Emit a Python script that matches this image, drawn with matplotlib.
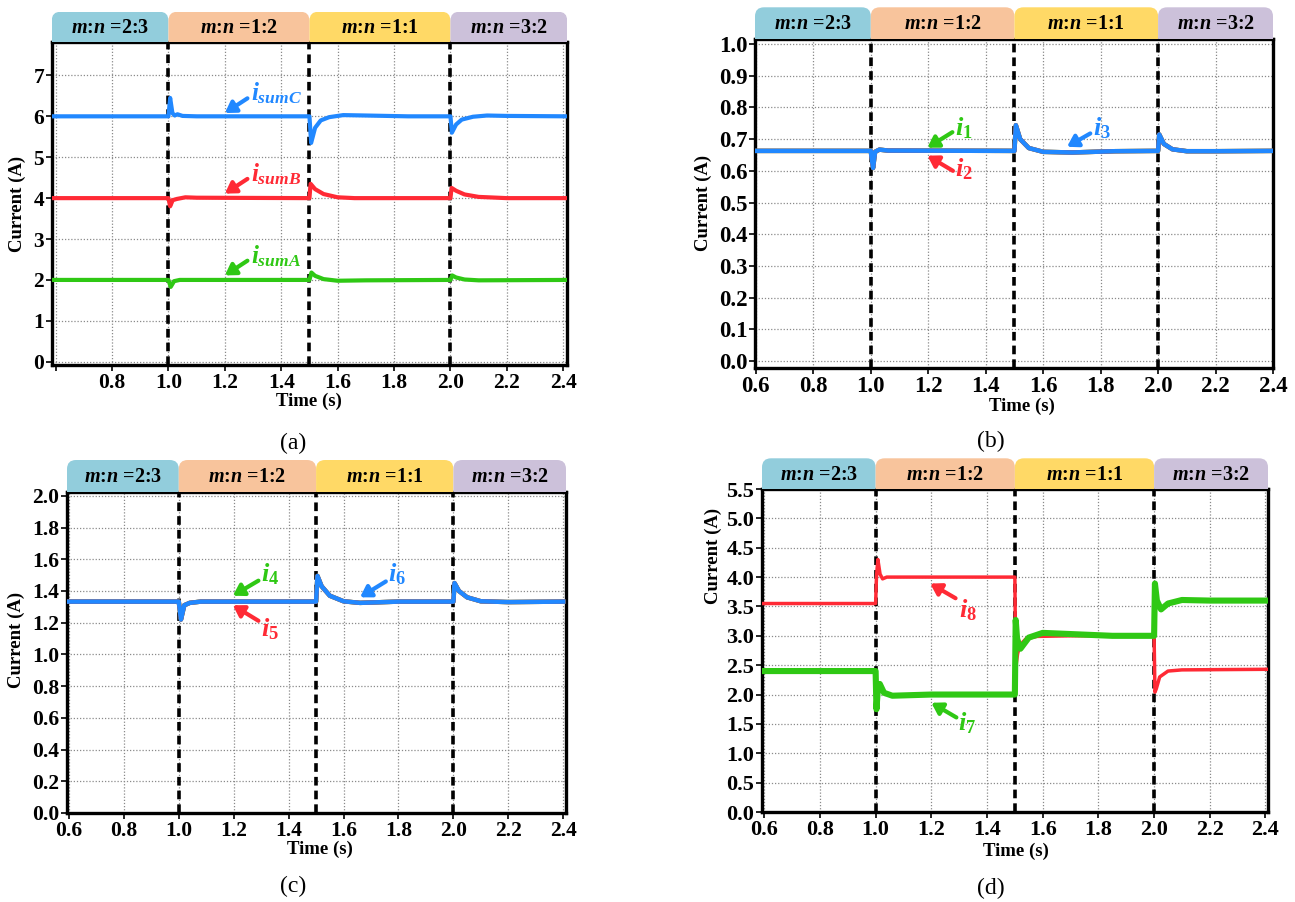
import matplotlib
matplotlib.use("Agg")
import matplotlib.pyplot as plt
from matplotlib.patches import FancyBboxPatch

plt.rcParams["font.family"] = ["Liberation Serif", "DejaVu Serif"]
plt.rcParams["font.weight"] = "bold"
plt.rcParams["mathtext.fontset"] = "custom"
plt.rcParams["mathtext.it"] = "Liberation Serif:italic:bold"
plt.rcParams["mathtext.rm"] = "Liberation Serif:bold"
plt.rcParams["mathtext.bf"] = "Liberation Serif:bold"

W, H = 1295, 902
BLUE = "#2188FF"
RED = "#FF2A35"
GREEN = "#2FC814"
HEADER_COLORS = ["#92CDDC", "#F8C49C", "#FFD966", "#CCC1DA"]
HEADER_TEXT = ["$m$:$n$ =2:3", "$m$:$n$ =1:2", "$m$:$n$ =1:1", "$m$:$n$ =3:2"]
SWITCH_TIMES = [1.0, 1.5, 2.0]

# ---- (a) summed currents
A_C_T = [0.586, 1.000, 1.006, 1.014, 1.022, 1.032, 1.05, 1.10, 1.500, 1.506, 1.52, 1.54,
         1.57, 1.62, 1.70, 1.85, 2.000, 2.005, 2.02, 2.04, 2.08, 2.13, 2.20, 2.414]
A_C_I = [6.00, 6.00, 6.45, 6.08, 6.02, 6.05, 6.01, 6.00, 6.00, 5.35, 5.72, 5.90,
         5.98, 6.03, 6.02, 6.00, 6.00, 5.60, 5.80, 5.92, 5.99, 6.02, 6.01, 6.00]
A_B_T = [0.586, 1.000, 1.006, 1.015, 1.03, 1.06, 1.10, 1.500, 1.504, 1.52, 1.55, 1.60,
         1.66, 1.80, 2.000, 2.004, 2.02, 2.05, 2.10, 2.20, 2.414]
A_B_I = [4.00, 4.00, 3.80, 3.95, 3.98, 4.02, 4.01, 4.00, 4.35, 4.22, 4.10, 4.02,
         4.00, 4.00, 4.00, 4.25, 4.18, 4.09, 4.03, 4.00, 4.00]
A_A_T = [0.586, 1.000, 1.008, 1.02, 1.04, 1.500, 1.507, 1.52, 1.55, 1.60, 1.70,
         2.000, 2.006, 2.02, 2.05, 2.10, 2.414]
A_A_I = [2.00, 2.00, 1.83, 1.97, 2.00, 2.00, 2.18, 2.10, 2.02, 1.98, 1.99,
         2.00, 2.11, 2.06, 2.01, 1.99, 2.00]

# ---- (b) i1 = i2 = i3
B_T = [0.6, 1.000, 1.003, 1.008, 1.015, 1.03, 1.06, 1.500, 1.505, 1.52, 1.55, 1.60,
       1.70, 1.85, 2.000, 2.004, 2.02, 2.05, 2.10, 2.20, 2.4]
B_I = [0.663, 0.663, 0.64, 0.609, 0.66, 0.667, 0.664, 0.663, 0.744, 0.70, 0.672, 0.66,
       0.658, 0.662, 0.663, 0.715, 0.685, 0.668, 0.662, 0.662, 0.663]

# ---- (c) i4 = i5 = i6
C_T = [0.6, 1.000, 1.003, 1.008, 1.02, 1.04, 1.08, 1.500, 1.505, 1.52, 1.55, 1.60,
       1.66, 1.80, 2.000, 2.004, 2.02, 2.05, 2.10, 2.20, 2.4]
C_I = [1.333, 1.333, 1.29, 1.22, 1.31, 1.325, 1.333, 1.333, 1.495, 1.43, 1.37, 1.335,
       1.325, 1.333, 1.333, 1.45, 1.40, 1.36, 1.335, 1.33, 1.333]

# ---- (d) i7, i8
D8_T = [0.592, 1.000, 1.003, 1.008, 1.016, 1.025, 1.04, 1.500, 1.503, 1.51, 1.52, 1.54,
        1.58, 1.70, 2.000, 2.003, 2.008, 2.02, 2.05, 2.10, 2.409]
D8_I = [3.55, 3.55, 4.00, 4.30, 4.05, 3.97, 4.00, 4.00, 2.45, 2.70, 2.85, 2.95,
        2.99, 3.00, 3.00, 2.04, 2.10, 2.30, 2.40, 2.42, 2.43]
D7_T = [0.592, 1.000, 1.003, 1.008, 1.015, 1.03, 1.06, 1.20, 1.500, 1.503, 1.508, 1.52,
        1.55, 1.60, 1.70, 1.85, 2.000, 2.003, 2.01, 2.025, 2.05, 2.10, 2.20, 2.409]
D7_I = [2.40, 2.40, 1.75, 2.10, 2.18, 2.03, 1.98, 2.00, 2.00, 3.27, 2.95, 2.78,
        2.97, 3.05, 3.03, 3.00, 3.00, 3.89, 3.60, 3.45, 3.55, 3.61, 3.60, 3.60]

X_TICKS = [0.6, 0.8, 1.0, 1.2, 1.4, 1.6, 1.8, 2.0, 2.2, 2.4]

fig = plt.figure(figsize=(W / 100, H / 100), dpi=100)


def px_rect(x0, x1, ytop, ybot):
    return [x0 / W, 1 - ybot / H, (x1 - x0) / W, (ybot - ytop) / H]


def panel(box, xlim, ylim, yticks, yfmt, xlabels, fs, header_h):
    x0, x1, ytop, ybot = box
    ax = fig.add_axes(px_rect(x0, x1, ytop, ybot))
    ax.set_xlim(xlim)
    ax.set_ylim(ylim)
    ax.set_xticks(X_TICKS)
    ax.set_xticklabels(xlabels)
    ax.set_yticks(yticks)
    ax.set_yticklabels([yfmt.format(v) for v in yticks])
    ax.grid(True, ls=(0, (1, 1.5)), color="#8a8a8a", lw=0.9)
    for s in ax.spines.values():
        s.set_linewidth(2.4)
    ax.tick_params(direction="out", length=4, width=1.2, labelsize=fs, pad=1.5)
    for t in SWITCH_TIMES:
        ax.axvline(t, color="black", lw=2.6, ls=(0, (2.4, 1.4)), zorder=2)

    # header strip with rounded tabs
    hx = fig.add_axes(px_rect(x0, x1, ytop - header_h, ytop))
    hx.set_xlim(0, x1 - x0)
    hx.set_ylim(0, header_h)
    hx.axis("off")
    edges = [xlim[0]] + SWITCH_TIMES + [xlim[1]]
    to_h = hx.transData.inverted()
    xs = [to_h.transform(ax.transData.transform((e, 0)))[0] for e in edges]
    r = 9
    for i in range(4):
        hx.add_patch(FancyBboxPatch((xs[i], -r), xs[i + 1] - xs[i], header_h + r,
                                    boxstyle=f"round,pad=0,rounding_size={r}",
                                    facecolor=HEADER_COLORS[i], edgecolor="none"))
        hx.text((xs[i] + xs[i + 1]) / 2, header_h / 2 - 1, HEADER_TEXT[i], ha="center",
                va="center", fontsize=14.5, fontweight="bold")
    return ax


def tag(ax, text, pos, tail, tip, color, fs):
    ax.annotate("", xy=tip, xytext=tail,
                arrowprops=dict(arrowstyle="-|>,head_length=0.45,head_width=0.28",
                                lw=3.0, color=color, shrinkA=0, shrinkB=0,
                                mutation_scale=14), zorder=6)
    ax.text(pos[0], pos[1], text, color=color, fontsize=fs, ha="left", va="baseline",
            zorder=6)


def ftext(x, y, s, **kw):
    fig.text(x / W, 1 - y / H, s, ha="center", va="center", **kw)


# (a)
ax_a = panel((51.7, 567.2, 42.3, 365), (0.586, 2.414), (-0.08, 7.81), list(range(8)),
             "{:d}", [""] + ["%.1f" % v for v in X_TICKS[1:]], 15.5, 30.6)
ax_a.plot(A_C_T, A_C_I, color=BLUE, lw=3.0, zorder=3)
ax_a.plot(A_B_T, A_B_I, color=RED, lw=3.0, zorder=3)
ax_a.plot(A_A_T, A_A_I, color=GREEN, lw=3.0, zorder=3)
tag(ax_a, "$i_{sumC}$", (1.292, 6.40), (1.28, 6.44), (1.200, 6.08), BLUE, 18)
tag(ax_a, "$i_{sumB}$", (1.292, 4.40), (1.28, 4.47), (1.200, 4.11), RED, 18)
tag(ax_a, "$i_{sumA}$", (1.292, 2.40), (1.28, 2.47), (1.200, 2.11), GREEN, 18)

# (b)
yb = [round(0.1 * k, 1) for k in range(11)]
ax_b = panel((755, 1273, 39, 368), (0.597, 2.4), (-0.022, 1.016), yb, "{:.1f}",
             ["%.1f" % v for v in X_TICKS], 16.5, 31.7)
ax_b.plot(B_T, B_I, color=GREEN, lw=3.2, zorder=3)
ax_b.plot(B_T, B_I, color=RED, lw=3.2, zorder=3)
ax_b.plot(B_T, B_I, color=BLUE, lw=3.2, zorder=3)
tag(ax_b, "$i_1$", (1.294, 0.713), (1.284, 0.722), (1.197, 0.673), GREEN, 19)
tag(ax_b, "$i_2$", (1.294, 0.581), (1.286, 0.600), (1.197, 0.648), RED, 19)
tag(ax_b, "$i_3$", (1.774, 0.713), (1.764, 0.718), (1.683, 0.676), BLUE, 19)

# (c)
yc = [round(0.2 * k, 1) for k in range(11)]
ax_c = panel((67, 566, 491.7, 813), (0.593, 2.41), (0.0, 2.026), yc, "{:.1f}",
             ["%.1f" % v for v in X_TICKS], 15.5, 31.7)
ax_c.plot(C_T, C_I, color=GREEN, lw=3.2, zorder=3)
ax_c.plot(C_T, C_I, color=RED, lw=3.2, zorder=3)
ax_c.plot(C_T, C_I, color=BLUE, lw=3.2, zorder=3)
tag(ax_c, "$i_4$", (1.299, 1.459), (1.29, 1.465), (1.197, 1.370), GREEN, 19)
tag(ax_c, "$i_5$", (1.30, 1.112), (1.29, 1.212), (1.197, 1.310), RED, 19)
tag(ax_c, "$i_6$", (1.762, 1.459), (1.754, 1.460), (1.660, 1.360), BLUE, 19)

# (d)
yd = [round(0.5 * k, 1) for k in range(12)]
ax_d = panel((762, 1268, 489, 812), (0.592, 2.409), (0.0, 5.5), yd, "{:.1f}",
             ["%.1f" % v for v in X_TICKS], 16, 30.7)
ax_d.plot(D8_T, D8_I, color=RED, lw=2.5, zorder=3)
ax_d.plot(D7_T, D7_I, color=GREEN, lw=4.4, zorder=3)
tag(ax_d, "$i_8$", (1.301, 3.32), (1.287, 3.64), (1.196, 3.89), RED, 19)
tag(ax_d, "$i_7$", (1.295, 1.39), (1.290, 1.61), (1.200, 1.86), GREEN, 19)

# axis titles and panel letters
for (x, y) in [(17, 204), (703, 203), (16, 640), (713, 556)]:
    ftext(x, y, "Current (A)", rotation=90, fontsize=13.5, fontweight="bold")
for (x, y) in [(309, 401.7), (1022, 406.7), (319.6, 849), (1016, 851.7)]:
    ftext(x, y, "Time (s)", fontsize=13.5, fontweight="bold")
for s, (x, y) in zip(["(a)", "(b)", "(c)", "(d)"],
                     [(292.8, 443.3), (991, 441.7), (292.9, 886.7), (991.3, 888)]):
    ftext(x, y, s, fontsize=17, fontweight="normal")

fig.savefig("out.png", dpi=100, facecolor="white")
